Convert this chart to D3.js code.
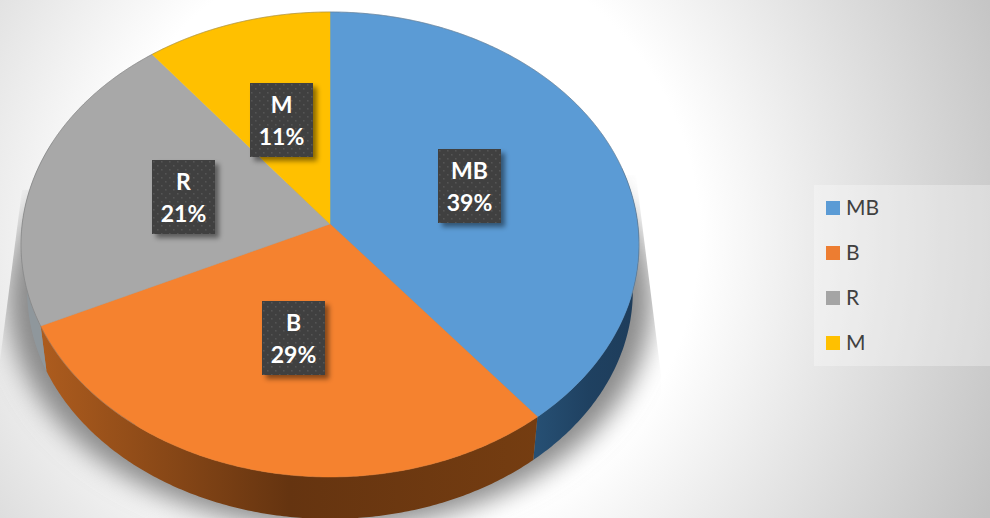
<!DOCTYPE html>
<html>
<head>
<meta charset="utf-8">
<script src="https://cdn.jsdelivr.net/npm/d3@7"></script>
<style>
  html, body { margin: 0; padding: 0; background: #fff; overflow: hidden; }
  svg { display: block; }
</style>
</head>
<body>
<div id="chart"></div>
<script>
const categories = ["MB", "B", "R", "M"];
const shares = [39.2, 28.8, 21.4, 10.6];
const colors = ["#5b9bd5", "#f5822f", "#a8a8a8", "#ffc000"];
const legendColors = ["#5b9bd5", "#ed7d31", "#a5a5a5", "#ffc000"];
// tones of the pie wall, from its start to its end
const wallColors = [
    ["#1e3c5a", "#1f4161", "#264f73"],
    ["#ad5c1e", "#653410", "#753d11"],
    ["#8f979c", "#8f979c", "#8f979c"],
    ["#997300", "#997300", "#997300"]
];

const width = 990;
const height = 518;

const svg = d3.select("#chart")
    .append("svg")
    .attr("width", width)
    .attr("height", height);

const defs = svg.append("defs");

const bg = defs.append("radialGradient")
    .attr("id", "bg")
    .attr("gradientUnits", "userSpaceOnUse")
    .attr("cx", 400).attr("cy", 235).attr("r", 650);
bg.append("stop").attr("offset", "0.46").attr("stop-color", "#ffffff");
bg.append("stop").attr("offset", "1").attr("stop-color", "#c2c2c2");

defs.append("filter").attr("id", "soft")
    .attr("x", "-20%").attr("y", "-20%").attr("width", "140%").attr("height", "140%")
    .append("feGaussianBlur").attr("stdDeviation", 13);

defs.append("clipPath").attr("id", "shadowClip")
    .append("polygon")
    .attr("points", "22,190 -1,368 -1,518 662,518 661,375 636,175");

const boxShadow = defs.append("filter").attr("id", "boxShadow")
    .attr("x", "-20%").attr("y", "-20%").attr("width", "150%").attr("height", "150%");
boxShadow.append("feDropShadow")
    .attr("dx", 4).attr("dy", 4).attr("stdDeviation", 2.5)
    .attr("flood-color", "#000").attr("flood-opacity", 0.45);

const dots = defs.append("pattern").attr("id", "dots")
    .attr("patternUnits", "userSpaceOnUse")
    .attr("width", 8).attr("height", 8);
dots.append("rect").attr("width", 8).attr("height", 8).attr("fill", "#3f3f3f");
dots.append("rect").attr("x", 1).attr("y", 1).attr("width", 1.6).attr("height", 1.6).attr("fill", "#555555");
dots.append("rect").attr("x", 5).attr("y", 5).attr("width", 1.6).attr("height", 1.6).attr("fill", "#555555");

svg.append("rect")
    .attr("width", width)
    .attr("height", height)
    .attr("fill", "url(#bg)");

// perspective view of the unit circle: the far side is squeezed, so the apex sits above the ellipse centre
const cx = 330, cy = 224, tilt = 0.0881, rx = 307.8, ry = 230.7;
const wallDepth = 47, wallShrink = 0.98;

function project(angle, r, lower) {
    const u = Math.sin(angle) * r;
    const v = -Math.cos(angle) * r;
    const w = 1 - tilt * v;
    const s = lower ? wallShrink : 1;
    return [cx + s * rx * u / w, cy + (lower ? wallDepth : 0) + s * ry * v / w];
}

function arcPoints(a0, a1, lower) {
    const n = Math.ceil((a1 - a0) / 0.01);
    return d3.range(n + 1).map(i => project(a0 + (a1 - a0) * i / n, 1, lower));
}

const line = d3.line();
const pie = d3.pie().sort(null).value(d => d)(shares);

// shadow under the pie
svg.append("g")
    .attr("clip-path", "url(#shadowClip)")
    .append("ellipse")
    .attr("cx", cx).attr("cy", 300)
    .attr("rx", 322).attr("ry", 228)
    .attr("fill", "#8a8a8a")
    .attr("filter", "url(#soft)");

// walls, front half only
const walls = svg.append("g");
pie.forEach((d, i) => {
    const a0 = Math.max(d.startAngle, Math.PI * 0.42);
    const a1 = Math.min(d.endAngle, Math.PI * 1.62);
    if (a1 <= a0) return;
    const top = arcPoints(a0, a1, false);
    const low = arcPoints(a0, a1, true).reverse();
    const xs = d3.extent(top, p => p[0]);
    const g = defs.append("linearGradient")
        .attr("id", "wall" + i)
        .attr("gradientUnits", "userSpaceOnUse")
        .attr("x1", i === 1 ? xs[0] : xs[1]).attr("x2", i === 1 ? xs[1] : xs[0])
        .attr("y1", 0).attr("y2", 0);
    g.selectAll("stop").data(wallColors[i]).join("stop")
        .attr("offset", (c, k) => k / 2)
        .attr("stop-color", c => c);
    walls.append("path")
        .attr("d", line(top.concat(low)) + "Z")
        .attr("fill", `url(#wall${i})`);
});

// top face
svg.append("g").selectAll("path")
    .data(pie)
    .join("path")
    .attr("d", d => line([[cx, cy]].concat(arcPoints(d.startAngle, d.endAngle, false))) + "Z")
    .attr("fill", (d, i) => colors[i])
    .attr("stroke", (d, i) => colors[i])
    .attr("stroke-width", 0.5);

svg.append("path")
    .attr("d", line(arcPoints(Math.PI * 1.2, Math.PI * 2.6, false)))
    .attr("fill", "none")
    .attr("stroke", "#6f6f6f")
    .attr("stroke-opacity", 0.55)
    .attr("stroke-width", 0.8);

// data labels
const boxW = 63, boxH = 74;
const fmt = d3.format(".0f");
const labels = svg.append("g").selectAll("g")
    .data(pie)
    .join("g")
    .attr("transform", d => {
        const p = project((d.startAngle + d.endAngle) / 2, 0.492, false);
        return `translate(${Math.round(p[0] - boxW / 2 - 1)},${Math.round(p[1] - boxH / 2 - 1)})`;
    });

labels.append("rect")
    .attr("width", boxW)
    .attr("height", boxH)
    .attr("fill", "url(#dots)")
    .attr("filter", "url(#boxShadow)");

labels.append("text")
    .attr("x", boxW / 2)
    .attr("y", 30)
    .text((d, i) => categories[i]);

labels.append("text")
    .attr("x", boxW / 2)
    .attr("y", 62)
    .text(d => fmt(d.value) + "%");

labels.selectAll("text")
    .attr("text-anchor", "middle")
    .attr("fill", "#fff")
    .style("font-family", "Lato, 'Open Sans', sans-serif")
    .style("font-weight", "bold")
    .style("font-size", "23px");

// legend
svg.append("rect")
    .attr("x", 814).attr("y", 185)
    .attr("width", 176).attr("height", 181)
    .attr("fill", "#fff").attr("fill-opacity", 0.3);

const legendY = d3.scalePoint().domain(categories).range([208, 343]);
const legend = svg.append("g").selectAll("g")
    .data(categories)
    .join("g")
    .attr("transform", d => `translate(826,${legendY(d)})`);

legend.append("rect")
    .attr("y", -7)
    .attr("width", 14)
    .attr("height", 14)
    .attr("fill", (d, i) => legendColors[i]);

legend.append("text")
    .attr("x", 20)
    .attr("y", 7)
    .attr("fill", "#404040")
    .style("font-family", "Lato, 'Open Sans', sans-serif")
    .style("font-size", "21px")
    .text(d => d);
</script>
</body>
</html>
